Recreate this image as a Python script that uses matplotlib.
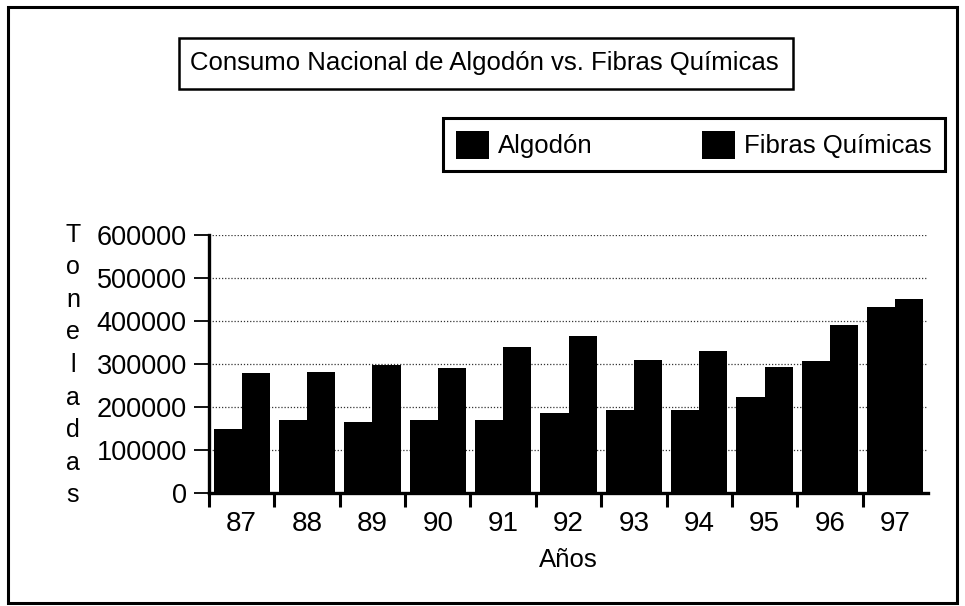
import matplotlib
matplotlib.use("Agg")
import matplotlib.pyplot as plt
import numpy as np
from matplotlib.patches import Rectangle

plt.rcParams['font.family'] = ['Liberation Sans', 'DejaVu Sans']

# datos (toneladas)
years = ["87", "88", "89", "90", "91", "92", "93", "94", "95", "96", "97"]
algodon = [150000, 170000, 165000, 170000, 170000, 185000, 193000, 193000, 223000, 308000, 432000]
fibras = [280000, 282000, 297000, 290000, 340000, 365000, 310000, 330000, 292000, 390000, 452000]
yticks = [0, 100000, 200000, 300000, 400000, 500000, 600000]

W, H = 965, 606


def fx(px):
    return px / W


def fy(py):
    return 1 - py / H


fig = plt.figure(figsize=(W / 100, H / 100), dpi=100)
ax = fig.add_axes([fx(209), fy(493), fx(928) - fx(209), fy(235) - fy(493)])

x = np.arange(len(years))
w = 0.43
b1 = ax.bar(x - w / 2, algodon, width=w, color="black", label="Algodón")
b2 = ax.bar(x + w / 2, fibras, width=w, color="black", label="Fibras Químicas")

ax.set_xlim(-0.5, len(years) - 0.5)
ax.set_ylim(0, 600000)
ax.set_axisbelow(True)
ax.yaxis.grid(True, linestyle=(0, (1, 1.5)), color="#333333", linewidth=0.9)

# ticks del eje x en los límites de cada categoría, etiquetas en el centro
ax.set_xticks(np.arange(-0.5, len(years) - 1, 1))
ax.set_xticklabels([])
ax.set_xticks(x, minor=True)
ax.set_xticklabels(years, minor=True)
ax.tick_params(axis="x", which="major", direction="out", length=10, width=2.2)
ax.tick_params(axis="x", which="minor", length=0, pad=13, labelsize=20)

ax.set_yticks(yticks)
ax.set_yticklabels([str(v) for v in yticks])
ax.tick_params(axis="y", direction="out", length=11, width=1.3, pad=5, labelsize=19.5)

for s in ["top", "right"]:
    ax.spines[s].set_visible(False)
for s in ["left", "bottom"]:
    ax.spines[s].set_linewidth(2.4)

ax.set_xlabel("Años", fontsize=18.5, labelpad=8)

# etiqueta vertical del eje y
fig.text(fx(73), fy(365), "\n".join("Toneladas"), ha="center", va="center",
         fontsize=18, linespacing=1.45, multialignment="center")

# marco exterior
fig.patches.append(Rectangle((fx(8), fy(603)), fx(957) - fx(8), fy(7) - fy(603),
                             transform=fig.transFigure, fill=False, lw=2.2, ec="black"))

# título en caja
fig.patches.append(Rectangle((fx(179), fy(89)), fx(793) - fx(179), fy(38) - fy(89),
                             transform=fig.transFigure, fill=False, lw=1.8, ec="black"))
fig.text(fx(484), fy(63), "Consumo Nacional de Algodón vs. Fibras Químicas",
         ha="center", va="center", fontsize=18.5)

leg = fig.legend(handles=[b1, b2], loc="upper left", bbox_to_anchor=(fx(443), fy(118)),
                 ncol=2, fontsize=18.5, handlelength=1.28, handleheight=1.28,
                 handletextpad=0.35, columnspacing=4.28, borderpad=0.5, borderaxespad=0,
                 fancybox=False, edgecolor="black", framealpha=1)
leg.get_frame().set_linewidth(2.2)

fig.savefig("out.png", dpi=100)
